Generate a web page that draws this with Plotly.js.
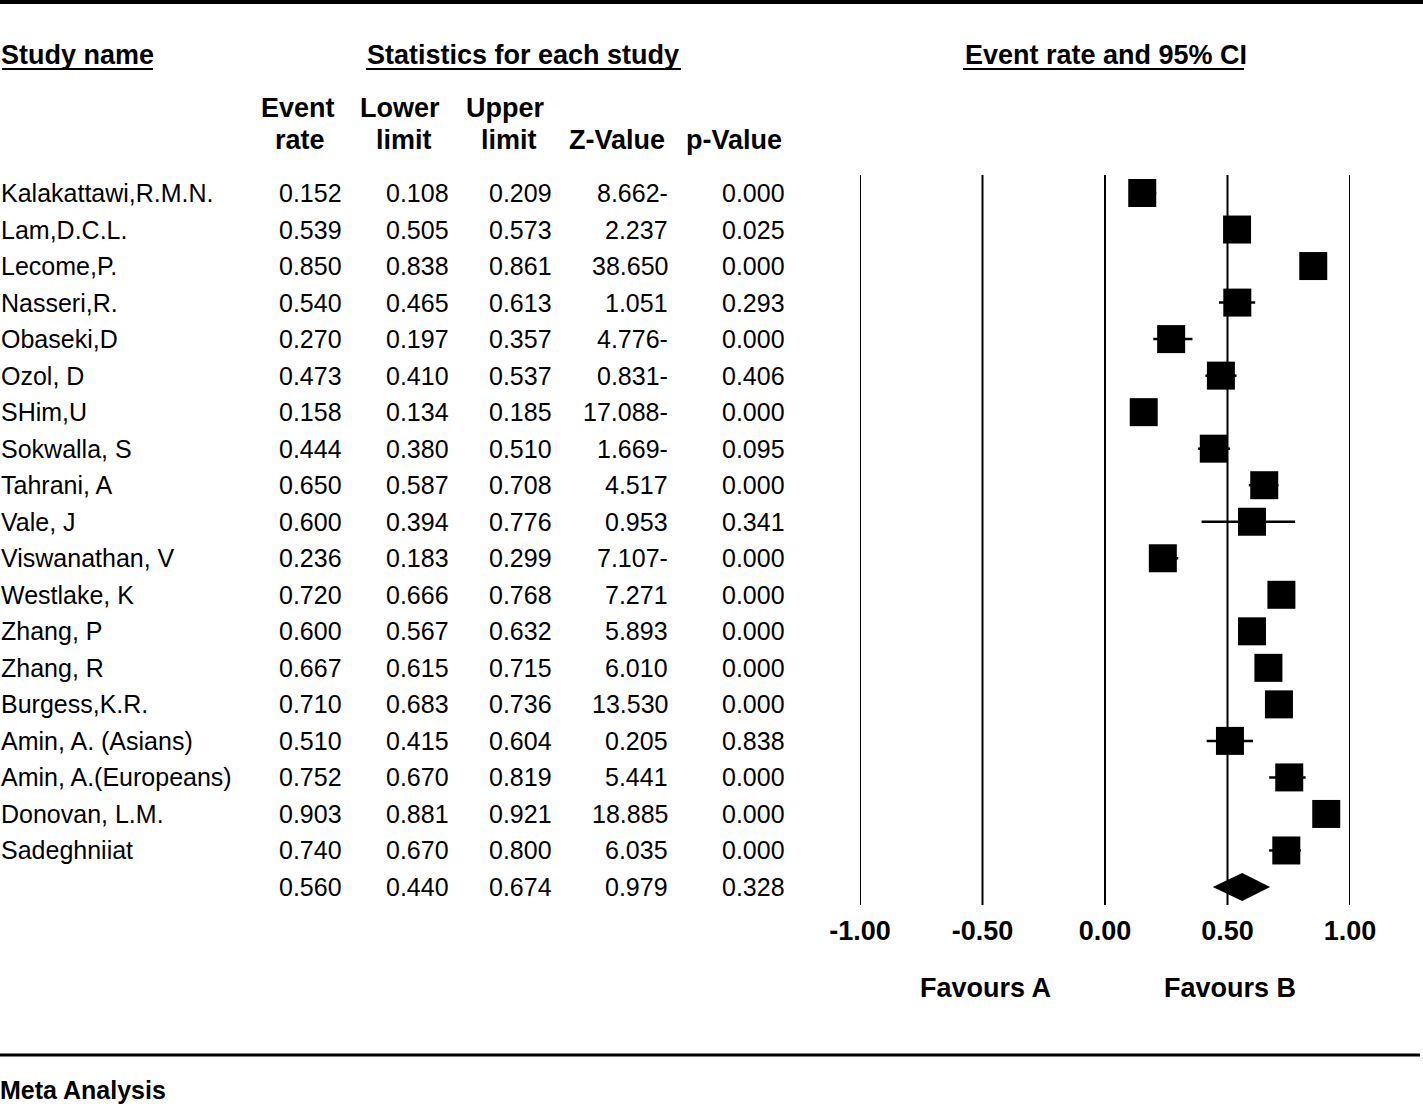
<!DOCTYPE html>
<html>
<head>
<meta charset="utf-8">
<script src="https://cdn.plot.ly/plotly-3.0.1.min.js"></script>
<style>html,body{margin:0;padding:0;background:#fff;}#chart{width:1423px;height:1107px;}</style>
</head>
<body>
<div id="chart"></div>
<script>
// ---- data ----
const studies = ["Kalakattawi,R.M.N.","Lam,D.C.L.","Lecome,P.","Nasseri,R.","Obaseki,D","Ozol, D","SHim,U","Sokwalla, S","Tahrani, A","Vale, J","Viswanathan, V","Westlake, K","Zhang, P","Zhang, R","Burgess,K.R.","Amin, A. (Asians)","Amin, A.(Europeans)","Donovan, L.M.","Sadeghniiat"];
const eventRate = [0.152,0.539,0.850,0.540,0.270,0.473,0.158,0.444,0.650,0.600,0.236,0.720,0.600,0.667,0.710,0.510,0.752,0.903,0.740];
const lowerLimit = [0.108,0.505,0.838,0.465,0.197,0.410,0.134,0.380,0.587,0.394,0.183,0.666,0.567,0.615,0.683,0.415,0.670,0.881,0.670];
const upperLimit = [0.209,0.573,0.861,0.613,0.357,0.537,0.185,0.510,0.708,0.776,0.299,0.768,0.632,0.715,0.736,0.604,0.819,0.921,0.800];
const zValue = ["8.662-","2.237","38.650","1.051","4.776-","0.831-","17.088-","1.669-","4.517","0.953","7.107-","7.271","5.893","6.010","13.530","0.205","5.441","18.885","6.035"];
const pValue = ["0.000","0.025","0.000","0.293","0.000","0.406","0.000","0.095","0.000","0.341","0.000","0.000","0.000","0.000","0.000","0.838","0.000","0.000","0.000"];
const summary = {rate:0.560, lower:0.440, upper:0.674, z:"0.979", p:"0.328"};
const tickVals = [-1,-0.5,0,0.5,1];
const tickText = ["-1.00","-0.50","0.00","0.50","1.00"];

// ---- layout helpers ----
const W = 1423, H = 1107;
const FONT = "Liberation Sans, Arial, sans-serif";
const px = v => v / W;
const py = v => 1 - v / H;
const nRows = studies.length; // summary row index = nRows
const rowTop = 193, rowStep = (887 - 193) / nRows;
const yTop = -rowTop / rowStep, yBot = (H - rowTop) / rowStep;

const annotations = [];
function txt(text, x, y, opts) {
  opts = opts || {};
  annotations.push({
    text: text, x: px(x), y: y, xref: "paper", yref: opts.yref || "y",
    xanchor: opts.xanchor || "right", yanchor: "middle", showarrow: false,
    borderpad: 0, borderwidth: 0,
    font: {family: FONT, size: opts.size || 25, color: "#000", weight: opts.bold ? "bold" : "normal"}
  });
}

const colRight = [342, 449, 552, 668, 785];
const fmt = v => v.toFixed(3);
studies.forEach((s, i) => {
  txt(s, 1, i, {xanchor: "left"});
  txt(fmt(eventRate[i]), colRight[0], i);
  txt(fmt(lowerLimit[i]), colRight[1], i);
  txt(fmt(upperLimit[i]), colRight[2], i);
  txt(zValue[i], colRight[3], i);
  txt(pValue[i], colRight[4], i);
});
txt(fmt(summary.rate), colRight[0], nRows);
txt(fmt(summary.lower), colRight[1], nRows);
txt(fmt(summary.upper), colRight[2], nRows);
txt(summary.z, colRight[3], nRows);
txt(summary.p, colRight[4], nRows);

// headers
const hdr = (t, x, y, anchor, size) => txt(t, x, py(y), {yref: "paper", xanchor: anchor || "center", bold: true, size: size || 27});
hdr("Study name", 1, 55, "left");
hdr("Statistics for each study", 523, 55);
hdr("Event rate and 95% CI", 1106, 55);
hdr("Event", 298, 108); hdr("rate", 300, 140);
hdr("Lower", 400, 108); hdr("limit", 404, 140);
hdr("Upper", 505, 108); hdr("limit", 509, 140);
hdr("Z-Value", 617, 140);
hdr("p-Value", 734, 140);
hdr("Favours A", 985, 988);
hdr("Favours B", 1230, 988);
hdr("Meta Analysis", 0, 1090, "left", 25);

// shapes
const shapes = [];
const hline = (x0, x1, y, w) => shapes.push({type: "line", xref: "paper", yref: "paper", x0: px(x0), x1: px(x1), y0: py(y), y1: py(y), line: {color: "#000", width: w}});
hline(0, W, 2, 4);
hline(0, 1420, 1055, 3);
hline(2, 153, 69, 2);
hline(366, 681, 69, 2);
hline(963, 1244, 69, 2);
tickVals.forEach(v => shapes.push({type: "line", xref: "x", yref: "y", x0: v, x1: v, y0: -0.49, y1: nRows + 0.49, line: {color: "#000", width: 2}, layer: "below"}));

const rows = studies.map((_, i) => i);
const traces = [
  {
    type: "scatter", mode: "markers", x: eventRate, y: rows,
    marker: {symbol: "square", size: 28, color: "#000", line: {width: 0}},
    error_x: {type: "data", symmetric: false,
      array: eventRate.map((v, i) => upperLimit[i] - v),
      arrayminus: eventRate.map((v, i) => v - lowerLimit[i]),
      color: "#000", thickness: 2.5, width: 0},
    hoverinfo: "skip", showlegend: false
  },
  {
    type: "scatter", mode: "lines", fill: "toself", fillcolor: "#000",
    x: [summary.lower, summary.rate, summary.upper, summary.rate, summary.lower],
    y: [nRows, nRows - 0.38, nRows, nRows + 0.38, nRows],
    line: {width: 0, color: "#000"}, hoverinfo: "skip", showlegend: false
  }
];

const layout = {
  width: W, height: H, margin: {l: 0, r: 0, t: 0, b: 0},
  paper_bgcolor: "#fff", plot_bgcolor: "rgba(0,0,0,0)",
  showlegend: false,
  xaxis: {domain: [px(860), px(1350)], range: [-1, 1], anchor: "free", position: py(912),
    tickvals: tickVals, ticktext: tickText, ticks: "", showline: false, showgrid: false, zeroline: false,
    tickfont: {family: FONT, size: 27, color: "#000", weight: "bold"}, fixedrange: true},
  yaxis: {domain: [0, 1], range: [yBot, yTop], visible: false, fixedrange: true},
  annotations: annotations, shapes: shapes
};

Plotly.newPlot("chart", traces, layout, {staticPlot: true});
</script>
</body>
</html>
